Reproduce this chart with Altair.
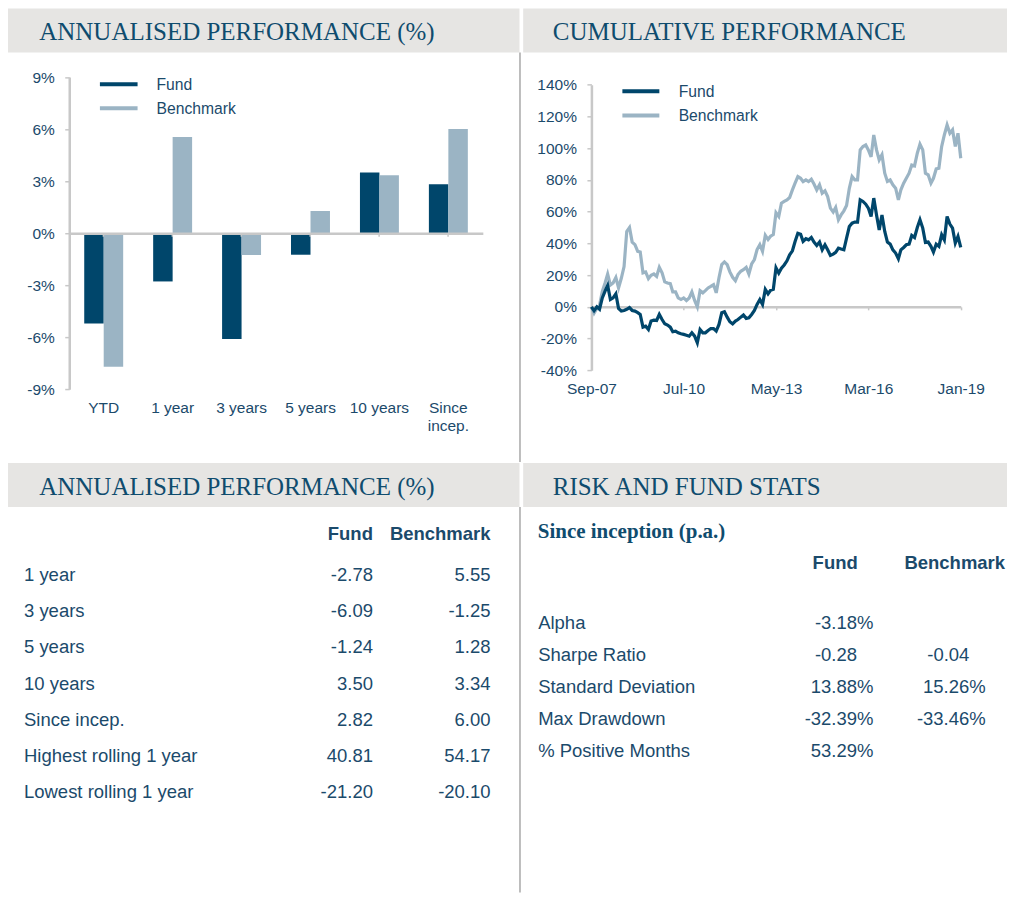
import altair as alt
import pandas as pd

# ---------------- data ----------------
categories = ["YTD", "1 year", "3 years", "5 years", "10 years", "Since incep."]
series_names = ["Fund", "Benchmark"]
bar_fund = [-5.2, -2.78, -6.09, -1.24, 3.50, 2.82]
bar_bench = [-7.7, 5.55, -1.25, 1.28, 3.34, 6.00]
bar_ticks = [-9, -6, -3, 0, 3, 6, 9]

cum_start = "2007-09-01"
cum_fund = [
    0, -2.5, 0, -1.5, 5.6, 9.9, 13.5, 4.6, 5.6, 8.2,
    -1, -2.7, -2.3, -1.6, -0.5, -2.3, -2.7, -3.7, -4.8, -12.8,
    -12.2, -14.3, -9, -8.4, -8.6, -4.8, -8, -10.7, -11.5, -12.8,
    -15.7, -15.3, -16.4, -17, -17.4, -17.9, -18.5, -16.4, -18.5, -22.7,
    -14.3, -16.4, -16.4, -14.9, -13.7, -13.7, -15.3, -11.1, -3.7, -3.1,
    -6.5, -9.4, -10.7, -9, -8, -6.5, -5.2, -7.3, -6.9, -4.8,
    -2.3, 1.5, 4.6, 1.5, 11, 8.2, 10.4, 11, 24.6, 21.2,
    24.3, 26.4, 29, 32.8, 35.3, 41.2, 46.4, 45.8, 41.2, 42.9,
    42.2, 43.7, 40.8, 38.7, 40.8, 35.9, 39.1, 35.9, 32.4, 33.2,
    34.3, 37, 36.4, 35.9, 43.3, 50.6, 52.7, 53.4, 53.4, 67.4,
    66.4, 64.7, 62.2, 56.9, 68.5, 57.9, 48.5, 57.9, 47.5, 40.8,
    39.5, 35.9, 33.9, 30.3, 35.9, 37.4, 39.1, 39.5, 45, 43.7,
    50, 54.9, 49.6, 40.6, 40.8, 38.1, 34.5, 39.5, 38.1, 45.4,
    42.2, 56.9, 52.1, 49.6, 40.2, 44.4, 37.4,
]
cum_bench = [
    0, -4, -1, 1, 9.7, 15, 20.6, 13.7, 15, 18.5,
    11.9, 18, 25.4, 47.5, 50, 40.8, 39.2, 35, 34.6, 21.4,
    22, 17.8, 19.9, 20.7, 19.2, 24.9, 21.4, 15.7, 15, 14.6,
    9.4, 9.4, 5.6, 4.6, 5.6, 4, 5.6, 9.4, 4, 0,
    10.2, 8.8, 10.2, 11.9, 12.9, 14, 8.8, 18.3, 26.6, 28.3,
    26.6, 22, 18.6, 16.5, 20.3, 22.4, 23.4, 24.9, 20.7, 27,
    29.8, 36.1, 39.2, 35, 45.1, 42.4, 44.5, 45.5, 59.3, 57,
    65.3, 66.4, 67.4, 68.9, 73.7, 77.9, 82.1, 81, 78.9, 80,
    78.9, 80.4, 77.4, 73.7, 76.9, 71.6, 73.1, 69.5, 62.2, 59.7,
    62.6, 54.8, 57.9, 60.5, 63.8, 74.7, 82.1, 80, 80, 98.9,
    101, 102, 98.9, 94.5, 108.3, 98.9, 92.6, 95.8, 84.2, 79,
    80, 76.9, 74.8, 67.4, 73.7, 77.9, 81, 84.2, 89.4, 88.8,
    96.8, 102.5, 98.9, 84.2, 83.2, 77.9, 81, 86.9, 87.3, 101,
    108.3, 114.6, 109.4, 111.5, 101, 109.4, 93.6,
]
cum_xticks = [(2007, 9), (2010, 7), (2013, 5), (2016, 3), (2019, 1)]
cum_yticks = [-40, -20, 0, 20, 40, 60, 80, 100, 120, 140]

perf_rows = ["1 year", "3 years", "5 years", "10 years", "Since incep.",
             "Highest rolling 1 year", "Lowest rolling 1 year"]
perf_fund = ["-2.78", "-6.09", "-1.24", "3.50", "2.82", "40.81", "-21.20"]
perf_bench = ["5.55", "-1.25", "1.28", "3.34", "6.00", "54.17", "-20.10"]

risk_subtitle = "Since inception (p.a.)"
risk_rows = ["Alpha", "Sharpe Ratio", "Standard Deviation", "Max Drawdown", "% Positive Months"]
risk_fund = ["-3.18%", "-0.28", "13.88%", "-32.39%", "53.29%"]
risk_bench = ["", "-0.04", "15.26%", "-33.46%", ""]

titles = ["ANNUALISED PERFORMANCE (%)", "CUMULATIVE PERFORMANCE",
          "ANNUALISED PERFORMANCE (%)", "RISK AND FUND STATS"]

# ---------------- style ----------------
NAVY = "#00466b"
LIGHT = "#9bb4c4"
TITLE_C = "#0f4c6e"
TEXT_C = "#1b4a6b"
AXIS_C = "#c8c8c8"
HEAD_BG = "#e6e5e3"
DIV_C = "#a8a8a8"
SANS = "Liberation Sans"
SERIF = "Liberation Serif"

WL, WR = 513, 486
HT, HB = 454, 430


def one(**kw):
    return pd.DataFrame({k: [v] for k, v in kw.items()})


def header(title, x0, x1):
    bg = alt.Chart(one(t=title)).mark_rect(color=HEAD_BG).encode(
        x=alt.value(x0), x2=alt.value(x1), y=alt.value(0), y2=alt.value(44))
    tx = alt.Chart(one(t=title)).mark_text(
        font=SERIF, fontSize=25, color=TITLE_C, align="left", baseline="alphabetic"
    ).encode(x=alt.value(31.3), y=alt.value(32), text="t:N")
    return [bg, tx]


def divider(h):
    return alt.Chart(one(t="d")).mark_rule(color=DIV_C, strokeWidth=1.5).encode(
        x=alt.value(512.5), y=alt.value(44), y2=alt.value(h))


def legend(x0, x1, xt, y0, yt):
    layers = []
    for i, (name, col) in enumerate(zip(series_names, [NAVY, LIGHT])):
        layers.append(alt.Chart(one(s=name)).mark_rule(color=col, strokeWidth=4).encode(
            x=alt.value(x0), x2=alt.value(x1), y=alt.value(y0 + i * 24.2)))
        layers.append(alt.Chart(one(s=name)).mark_text(
            font=SANS, fontSize=15.7, color=TEXT_C, align="left", baseline="alphabetic"
        ).encode(x=alt.value(xt), y=alt.value(yt + i * 24.2), text="s:N"))
    return layers


axis_common = dict(
    title=None, grid=False, domainColor=AXIS_C, domainWidth=2.5, tickColor=AXIS_C,
    tickWidth=1.5, labelFont=SANS, labelFontSize=15.5, labelColor=TEXT_C,
    labelFlush=False, labelOverlap=False,
)

# ---------------- panel 1: bar chart ----------------
bar_df = pd.DataFrame({
    "cat": categories * 2,
    "series": [series_names[0]] * len(categories) + [series_names[1]] * len(categories),
    "value": bar_fund + bar_bench,
})
bars = alt.Chart(bar_df).mark_bar().encode(
    x=alt.X("cat:N", sort=categories,
            scale=alt.Scale(domain=categories, range=[61.3, 475.3],
                            paddingInner=0.435, paddingOuter=0.2175),
            axis=alt.Axis(orient="bottom", offset=-229, tickSize=3, labelPadding=164.5,
                          labelAngle=0, labelLineHeight=18, zindex=1,
                          labelExpr="datum.value == 'Since incep.' ? ['Since', 'incep.'] : datum.label",
                          **axis_common)),
    xOffset=alt.XOffset("series:N", sort=series_names, scale=alt.Scale(domain=series_names)),
    y=alt.Y("value:Q",
            scale=alt.Scale(domain=[-9, 9], range=[381.3, 68.7], nice=False, zero=False),
            axis=alt.Axis(values=bar_ticks, offset=-61.3, tickSize=4.5, labelPadding=10.5,
                          labelExpr="datum.value + '%'", **axis_common)),
    color=alt.Color("series:N", scale=alt.Scale(domain=series_names, range=[NAVY, LIGHT]),
                    legend=None),
)
p1 = alt.layer(*header(titles[0], 0, 512), divider(HT), bars,
               *legend(92, 129.7, 148.7, 75.8, 81.3)).properties(width=WL, height=HT)

# ---------------- panel 2: cumulative line chart ----------------
dates = pd.date_range(cum_start, periods=len(cum_fund), freq="MS")
line_df = pd.DataFrame({
    "date": list(dates) * 2,
    "series": [series_names[0]] * len(dates) + [series_names[1]] * len(dates),
    "value": cum_fund + cum_bench,
})
xdt = [alt.DateTime(year=y, month=m, date=1) for y, m in cum_xticks]
xenc = alt.X("date:T",
             scale=alt.Scale(domain=[xdt[0], xdt[-1]], range=[70, 439.7], nice=False),
             axis=alt.Axis(values=xdt, format="%b-%y", offset=-155.3, tickSize=3,
                           labelPadding=71.8, labelAngle=0, **axis_common))
yenc = alt.Y("value:Q",
             scale=alt.Scale(domain=[-40, 140], range=[362.2, 76.3], nice=False, zero=False),
             axis=alt.Axis(values=cum_yticks, offset=-70, tickSize=4.5, labelPadding=10.5,
                           labelExpr="datum.value + '%'", **axis_common))
bench_line = alt.Chart(line_df).transform_filter(
    alt.datum.series == series_names[1]).mark_line(color=LIGHT, strokeWidth=3.2).encode(x=xenc, y=yenc)
fund_line = alt.Chart(line_df).transform_filter(
    alt.datum.series == series_names[0]).mark_line(color=NAVY, strokeWidth=3.2).encode(x=xenc, y=yenc)
p2 = alt.layer(*header(titles[1], 1.7, WR), bench_line, fund_line,
               *legend(101, 138, 157.3, 83, 88.7)).properties(width=WR, height=HT)

# ---------------- panel 3: performance table ----------------
perf_long = pd.DataFrame({
    "row": perf_rows * 2,
    "col": [series_names[0]] * len(perf_rows) + [series_names[1]] * len(perf_rows),
    "val": perf_fund + perf_bench,
})
yrow3 = alt.Y("row:N", scale=alt.Scale(type="point", domain=perf_rows, range=[118, 335.7], padding=0),
              axis=None)
xcol3 = alt.X("col:N", scale=alt.Scale(type="point", domain=series_names, range=[365.3, 483], padding=0),
              axis=None)
t3_vals = alt.Chart(perf_long).mark_text(
    font=SANS, fontSize=18.5, color=TEXT_C, align="right", baseline="alphabetic"
).encode(x=xcol3, y=yrow3, text="val:N")
t3_labels = alt.Chart(pd.DataFrame({"row": perf_rows})).mark_text(
    font=SANS, fontSize=18.5, color=TEXT_C, align="left", baseline="alphabetic"
).encode(x=alt.value(16), y=yrow3, text="row:N")
t3_head = alt.Chart(pd.DataFrame({"col": series_names})).mark_text(
    font=SANS, fontSize=18.5, fontWeight="bold", color=TEXT_C, align="right", baseline="alphabetic"
).encode(x=xcol3, y=alt.value(77.3), text="col:N")
p3 = alt.layer(*header(titles[2], 0, 512), divider(HB), t3_labels, t3_vals, t3_head
               ).properties(width=WL, height=HB)

# ---------------- panel 4: risk stats ----------------
risk_long = pd.DataFrame({
    "row": risk_rows * 2,
    "col": [series_names[0]] * len(risk_rows) + [series_names[1]] * len(risk_rows),
    "val": risk_fund + risk_bench,
})
risk_long["pct"] = risk_long["val"].str.endswith("%") | (risk_long["val"] == "")
yrow4 = alt.Y("row:N", scale=alt.Scale(type="point", domain=risk_rows, range=[165.7, 294.7], padding=0),
              axis=None)
xcol4 = alt.X("col:N", scale=alt.Scale(type="point", domain=series_names, range=[352.3, 464.7], padding=0),
              axis=None)
t4_pct = alt.Chart(risk_long).transform_filter("datum.pct").mark_text(
    font=SANS, fontSize=18.5, color=TEXT_C, align="right", baseline="alphabetic"
).encode(x=xcol4, y=yrow4, text="val:N")
t4_num = alt.Chart(risk_long).transform_filter("!datum.pct").mark_text(
    font=SANS, fontSize=18.5, color=TEXT_C, align="right", baseline="alphabetic", dx=-16.4
).encode(x=xcol4, y=yrow4, text="val:N")
t4_labels = alt.Chart(pd.DataFrame({"row": risk_rows})).mark_text(
    font=SANS, fontSize=18.5, color=TEXT_C, align="left", baseline="alphabetic"
).encode(x=alt.value(16.7), y=yrow4, text="row:N")
t4_heads = [
    alt.Chart(one(c=name)).mark_text(
        font=SANS, fontSize=18.5, fontWeight="bold", color=TEXT_C, align="center", baseline="alphabetic"
    ).encode(x=alt.value(xc), y=alt.value(106.3), text="c:N")
    for name, xc in zip(series_names, [314, 433.7])
]
t4_sub = alt.Chart(one(t=risk_subtitle)).mark_text(
    font=SERIF, fontSize=21, fontWeight="bold", color=TITLE_C, align="left", baseline="alphabetic"
).encode(x=alt.value(16.3), y=alt.value(75.3), text="t:N")
p4 = alt.layer(*header(titles[3], 1.7, WR), t4_sub, *t4_heads, t4_labels, t4_pct, t4_num
               ).properties(width=WR, height=HB)

chart = alt.vconcat(
    alt.hconcat(p1, p2, spacing=0),
    alt.hconcat(p3, p4, spacing=0),
    spacing=0,
).properties(padding=0).configure_view(stroke=None)

chart.save("out.html", embed_options={"renderer": "svg", "actions": False})
